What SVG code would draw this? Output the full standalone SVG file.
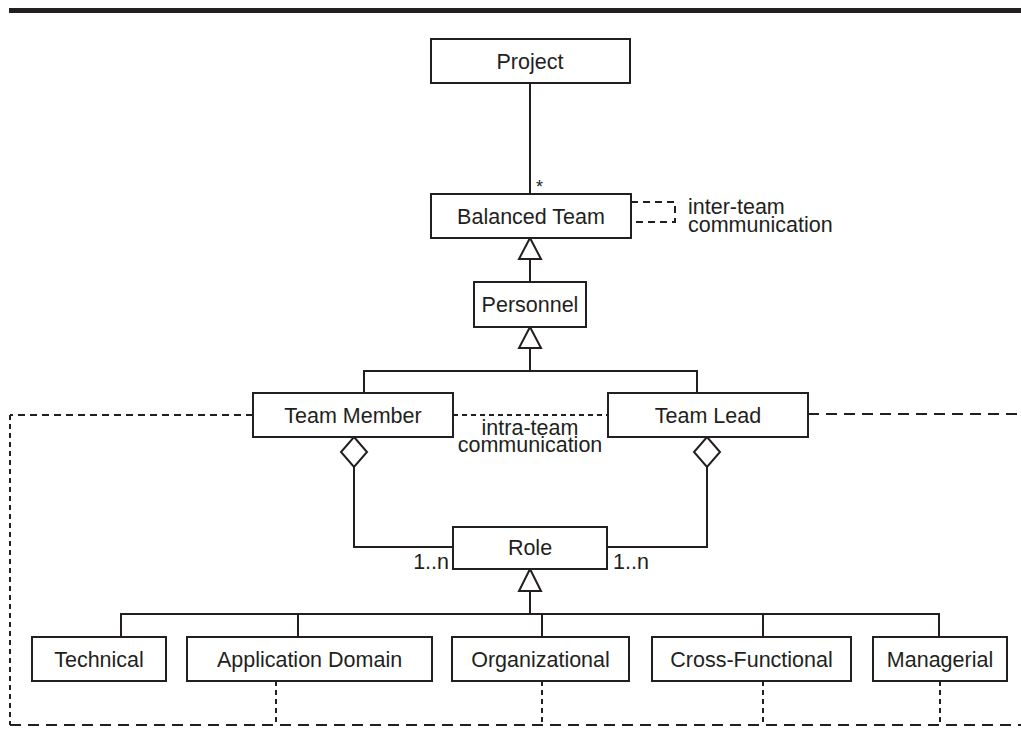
<svg xmlns="http://www.w3.org/2000/svg" width="1021" height="738" viewBox="0 0 1021 738">
  <style>
    .box { fill: #ffffff; stroke: #231f20; stroke-width: 2; }
    .line { fill: none; stroke: #231f20; stroke-width: 2; }
    .dash { fill: none; stroke: #231f20; stroke-width: 2; stroke-dasharray: 7 5; }
    .dash-long { fill: none; stroke: #231f20; stroke-width: 2; stroke-dasharray: 11 7; }
    .dash-short { fill: none; stroke: #231f20; stroke-width: 2; stroke-dasharray: 5 4; }
    .head { fill: #ffffff; stroke: #231f20; stroke-width: 2; stroke-linejoin: miter; }
    text { font-family: "Liberation Sans", Arial, Helvetica, sans-serif; font-size: 21.5px; fill: #231f20; }
    .c { text-anchor: middle; }
    .small { font-size: 18px; }
  </style>

  <!-- header rule -->
  <rect x="9" y="8" width="1012" height="5" fill="#231f20"/>

  <!-- connectors -->
  <g id="connectors">
    <!-- Project to Balanced Team -->
    <line class="line" x1="530" y1="83" x2="530" y2="194"/>
    <!-- inter-team self loop -->
    <path class="dash" d="M631,202 H675 V222 H631"/>
    <!-- Personnel generalizes to Balanced Team -->
    <line class="line" x1="530" y1="259" x2="530" y2="282"/>
    <polygon class="head" points="530,238 541,259 519,259"/>
    <!-- Team Member / Team Lead generalize to Personnel -->
    <path class="line" d="M364,393 V371 H697 V393 M530,371 V348"/>
    <polygon class="head" points="530,327 541,348 519,348"/>
    <!-- intra-team communication -->
    <line class="dash-short" x1="453" y1="415" x2="608" y2="415"/>
    <line class="dash" x1="253" y1="415" x2="10" y2="415"/>
    <line class="dash-long" x1="808" y1="414" x2="1021" y2="414"/>
    <line class="dash-short" x1="10" y1="415" x2="10" y2="725"/>
    <line class="dash-long" x1="10" y1="725" x2="1021" y2="725"/>
    <line class="dash-short" x1="276" y1="681" x2="276" y2="725"/>
    <line class="dash-short" x1="542" y1="681" x2="542" y2="725"/>
    <line class="dash-short" x1="763" y1="681" x2="763" y2="725"/>
    <line class="dash-short" x1="940" y1="681" x2="940" y2="725"/>
    <!-- aggregations to Role -->
    <path class="line" d="M354,467 V547 H453"/>
    <polygon class="head" points="354,437 367,452 354,467 341,452"/>
    <path class="line" d="M707,467 V547 H607"/>
    <polygon class="head" points="707,437 720,452 707,467 694,452"/>
    <!-- role kinds generalize to Role -->
    <path class="line" d="M121,637 V614 H939 V637 M298,614 V637 M542,614 V637 M763,614 V637 M530,614 V591"/>
    <polygon class="head" points="530,569 541,591 519,591"/>
    <!-- labels -->
    <text class="small" x="536" y="193">*</text>
    <text x="688" y="214">inter-team<tspan x="688" dy="18">communication</tspan></text>
    <text class="c" x="530" y="435">intra-team<tspan x="530" dy="17">communication</tspan></text>
    <text x="449" y="569" text-anchor="end">1..n</text>
    <text x="613" y="569">1..n</text>
  </g>

  <g id="project">
    <rect class="box" x="431" y="39" width="199" height="44"/>
    <text class="c" x="530" y="69">Project</text>
  </g>

  <g id="balanced-team">
    <rect class="box" x="431" y="194" width="200" height="44"/>
    <text class="c" x="531" y="224">Balanced Team</text>
  </g>

  <g id="personnel">
    <rect class="box" x="474" y="282" width="112" height="45"/>
    <text class="c" x="530" y="312">Personnel</text>
  </g>

  <g id="team-member">
    <rect class="box" x="253" y="393" width="200" height="44"/>
    <text class="c" x="353" y="423">Team Member</text>
  </g>

  <g id="team-lead">
    <rect class="box" x="608" y="393" width="200" height="44"/>
    <text class="c" x="708" y="423">Team Lead</text>
  </g>

  <g id="role">
    <rect class="box" x="453" y="527" width="154" height="42"/>
    <text class="c" x="530" y="555">Role</text>
  </g>

  <g id="technical">
    <rect class="box" x="32" y="637" width="134" height="44"/>
    <text class="c" x="99" y="667">Technical</text>
  </g>

  <g id="application-domain">
    <rect class="box" x="187" y="637" width="245" height="44"/>
    <text class="c" x="309.5" y="667">Application Domain</text>
  </g>

  <g id="organizational">
    <rect class="box" x="452" y="637" width="177" height="44"/>
    <text class="c" x="540.5" y="667">Organizational</text>
  </g>

  <g id="cross-functional">
    <rect class="box" x="652" y="637" width="199" height="44"/>
    <text class="c" x="751.5" y="667">Cross-Functional</text>
  </g>

  <g id="managerial">
    <rect class="box" x="873" y="637" width="134" height="44"/>
    <text class="c" x="940" y="667">Managerial</text>
  </g>
</svg>
